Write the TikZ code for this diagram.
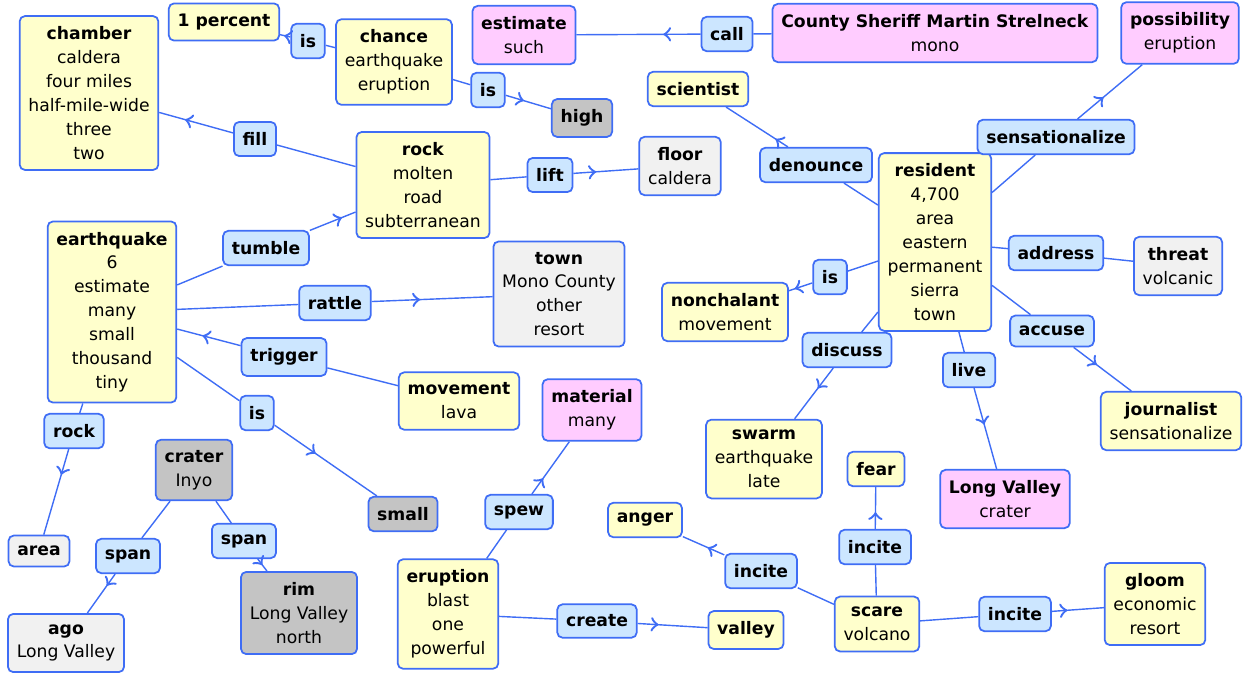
\documentclass[tikz,border=0pt]{standalone}
\usepackage{fontspec}
\setmainfont{DejaVu Sans}
\usetikzlibrary{positioning,arrows,decorations.markings}
\definecolor{mapblue}{HTML}{3F6DF5}
\definecolor{conceptyellow}{HTML}{FFFFCC}
\definecolor{linkblue}{HTML}{CCE6FF}
\definecolor{conceptpink}{HTML}{FFCCFF}
\definecolor{conceptgray}{HTML}{C4C4C4}
\definecolor{conceptlight}{HTML}{F1F1F1}
\tikzset{
	>=to,
	mid arrow/.style = {
		postaction = {decorate},
		decoration = {markings, mark = at position #1 with {\arrow[scale=1.7]{>}}}
	},
	mid arrow/.default = .5
}

\begin{document}
\begin{tikzpicture}[
x = .02cm, y = -.02cm,
every node/.style = {
	font = \fontsize{9.8}{13.6}\selectfont
},
concept/.style = {
	draw = mapblue,
	line width = 1pt,
	rounded corners = 3pt,
	align = center,
	inner xsep = 5pt,
	inner ysep = 6pt,
	fill = conceptyellow
},
linkword/.style = {
	concept,
	fill = linkblue,
	font = \fontsize{9.8}{13.6}\selectfont\bfseries
},
conn/.style = {
	draw = mapblue,
	line width = .8pt
}
]
\useasboundingbox (0,0) rectangle (1243,674);

% concepts
\node (chamber) [concept] at (89,93) {\textbf{chamber}\\caldera\\four miles\\half-mile-wide\\three\\two};
\node (percent_1) [concept] at (224,22) {\textbf{1 percent}};
\node (chance) [concept] at (394,62) {\textbf{chance}\\earthquake\\eruption};
\node (high) [concept, fill=conceptgray] at (582,118) {\textbf{high}};
\node (estimate) [concept, fill=conceptpink] at (524,35) {\textbf{estimate}\\such};
\node (sheriff) [concept, fill=conceptpink] at (935,33) {\textbf{County Sheriff Martin Strelneck}\\mono};
\node (possibility) [concept, fill=conceptpink] at (1180,33) {\textbf{possibility}\\eruption};
\node (scientist) [concept] at (698,89) {\textbf{scientist}};
\node (resident) [concept] at (935,242) {\textbf{resident}\\4,700\\area\\eastern\\permanent\\sierra\\town};
\node (rock_1) [concept] at (423,185) {\textbf{rock}\\molten\\road\\subterranean};
\node (floor) [concept, fill=conceptlight] at (680,166) {\textbf{floor}\\caldera};
\node (earthquake) [concept] at (112,312) {\textbf{earthquake}\\6\\estimate\\many\\small\\thousand\\tiny};
\node (town) [concept, fill=conceptlight] at (559,294) {\textbf{town}\\Mono County\\other\\resort};
\node (movement_1) [concept] at (459,401) {\textbf{movement}\\lava};
\node (small) [concept, fill=conceptgray] at (403,514) {\textbf{small}};
\node (area) [concept, fill=conceptlight] at (39,551) {\textbf{area}};
\node (crater) [concept, fill=conceptgray] at (194,470) {\textbf{crater}\\Inyo};
\node (ago) [concept, fill=conceptlight] at (66,643) {\textbf{ago}\\Long Valley};
\node (rim) [concept, fill=conceptgray] at (299,613) {\textbf{rim}\\Long Valley\\north};
\node (material) [concept, fill=conceptpink] at (592,410) {\textbf{material}\\many};
\node (eruption) [concept] at (448,614) {\textbf{eruption}\\blast\\one\\powerful};
\node (valley) [concept] at (746,630) {\textbf{valley}};
\node (anger) [concept] at (645,520) {\textbf{anger}};
\node (scare) [concept] at (877,624) {\textbf{scare}\\volcano};
\node (fear) [concept] at (876,469) {\textbf{fear}};
\node (gloom) [concept] at (1155,604) {\textbf{gloom}\\economic\\resort};
\node (swarm) [concept] at (764,459) {\textbf{swarm}\\earthquake\\late};
\node (nonchalant) [concept] at (725,312) {\textbf{nonchalant}\\movement};
\node (long_valley) [concept, fill=conceptpink] at (1005,499) {\textbf{Long Valley}\\crater};
\node (threat) [concept, fill=conceptlight] at (1178,266) {\textbf{threat}\\volcanic};
\node (journalist) [concept] at (1171,421) {\textbf{journalist}\\sensationalize};

% linking words
\node (is_1) [linkword] at (308,41) {is};
\node (is_2) [linkword] at (488,90) {is};
\node (call) [linkword] at (727,34) {call};
\node (denounce) [linkword] at (816,165) {denounce};
\node (sensationalize) [linkword] at (1056,137) {sensationalize};
\node (fill) [linkword] at (255,139) {fill};
\node (lift) [linkword] at (550,175) {lift};
\node (tumble) [linkword] at (266,248) {tumble};
\node (rattle) [linkword] at (335,303) {rattle};
\node (trigger) [linkword] at (284,357) {trigger};
\node (is_3) [linkword] at (257,413) {is};
\node (rock_2) [linkword] at (74,431) {rock};
\node (span_1) [linkword] at (128,556) {span};
\node (span_2) [linkword] at (244,541) {span};
\node (spew) [linkword] at (519,512) {spew};
\node (create) [linkword] at (597,621) {create};
\node (incite_1) [linkword] at (761,571) {incite};
\node (incite_2) [linkword] at (875,547) {incite};
\node (incite_3) [linkword] at (1015,614) {incite};
\node (is_4) [linkword] at (830,277) {is};
\node (discuss) [linkword] at (847,350) {discuss};
\node (live) [linkword] at (969,370) {live};
\node (address) [linkword] at (1056,253) {address};
\node (accuse) [linkword] at (1052,331) {accuse};

% connections
\draw [conn] (chance) -- (is_1);
\draw [conn, mid arrow=.6] (is_1) -- (percent_1);
\draw [conn] (chance) -- (is_2);
\draw [conn, mid arrow=.4] (is_2) -- (high);
\draw [conn] (sheriff) -- (call);
\draw [conn, mid arrow=.3] (call) -- (estimate);
\draw [conn] (resident) -- (denounce);
\draw [conn, mid arrow=.2] (denounce) -- (scientist);
\draw [conn] (resident) -- (sensationalize);
\draw [conn, mid arrow=.4] (sensationalize) -- (possibility);
\draw [conn] (rock_1) -- (fill);
\draw [conn, mid arrow=.65] (fill) -- (chamber);
\draw [conn] (rock_1) -- (lift);
\draw [conn, mid arrow=.35] (lift) -- (floor);
\draw [conn] (earthquake) -- (tumble);
\draw [conn, mid arrow=.7] (tumble) -- (rock_1);
\draw [conn] (earthquake) -- (rattle);
\draw [conn, mid arrow=.4] (rattle) -- (town);
\draw [conn] (movement_1) -- (trigger);
\draw [conn, mid arrow=.6] (trigger) -- (earthquake);
\draw [conn] (earthquake) -- (is_3);
\draw [conn, mid arrow=.4] (is_3) -- (small);
\draw [conn] (earthquake) -- (rock_2);
\draw [conn, mid arrow=.3] (rock_2) -- (area);
\draw [conn] (crater) -- (span_1);
\draw [conn, mid arrow=.3] (span_1) -- (ago);
\draw [conn] (crater) -- (span_2);
\draw [conn, mid arrow=.5] (span_2) -- (rim);
\draw [conn] (eruption) -- (spew);
\draw [conn, mid arrow=.3] (spew) -- (material);
\draw [conn] (eruption) -- (create);
\draw [conn, mid arrow=.3] (create) -- (valley);
\draw [conn] (scare) -- (incite_1);
\draw [conn, mid arrow=.4] (incite_1) -- (anger);
\draw [conn] (scare) -- (incite_2);
\draw [conn, mid arrow=.4] (incite_2) -- (fear);
\draw [conn] (scare) -- (incite_3);
\draw [conn, mid arrow=.3] (incite_3) -- (gloom);
\draw [conn] (resident) -- (is_4);
\draw [conn, mid arrow=.75] (is_4) -- (nonchalant);
\draw [conn] (resident) -- (discuss);
\draw [conn, mid arrow=.4] (discuss) -- (swarm);
\draw [conn] (resident) -- (live);
\draw [conn, mid arrow=.45] (live) -- (long_valley);
\draw [conn] (resident) -- (address);
\draw [conn] (address) -- (threat);
\draw [conn] (resident) -- (accuse);
\draw [conn, mid arrow=.4] (accuse) -- (journalist);
\end{tikzpicture}
\end{document}
